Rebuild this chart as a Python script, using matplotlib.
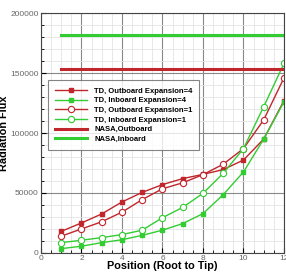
import numpy as np
import matplotlib.pyplot as plt
from matplotlib.ticker import MultipleLocator

plt.rcParams["font.family"] = ["Liberation Sans", "DejaVu Sans"]

# Radiation flux along the blade, root (1) to tip (12)
pos = np.arange(1, 13)
td_out_4 = [18000, 25000, 32500, 42500, 50500, 57000, 62000, 65500, 69500, 77500, 95000, 127000]
td_in_4 = [3600, 5600, 8600, 11000, 14700, 19000, 24500, 32800, 48600, 67500, 95000, 126000]
td_out_1 = [14000, 20000, 26000, 34000, 44500, 53500, 58500, 65300, 74000, 87000, 111000, 146000]
td_in_1 = [8600, 10600, 12800, 15300, 19000, 29400, 38000, 49700, 66400, 87000, 122000, 158000]
nasa_out = 153000
nasa_in = 182000

red = "#c0262c"
green = "#33cc33"

fig = plt.figure(figsize=(2.86, 2.72), dpi=100)
ax = fig.add_axes([0.143, 0.070, 0.85, 0.882])

ax.plot(pos, td_out_4, color=red, lw=1, marker="s", ms=3, label="TD, Outboard Expansion=4")
ax.plot(pos, td_in_4, color=green, lw=1, marker="s", ms=3, label="TD, Inboard Expansion=4")
ax.plot(pos, td_out_1, color=red, lw=1, marker="o", ms=4.5, mfc="white", mew=0.8, label="TD, Outboard Expansion=1")
ax.plot(pos, td_in_1, color=green, lw=1, marker="o", ms=4.5, mfc="white", mew=0.8, label="TD, Inboard Expansion=1")
ax.plot([pos[0], pos[-1]], [nasa_out, nasa_out], color=red, lw=2.2, label="NASA,Outboard")
ax.plot([pos[0], pos[-1]], [nasa_in, nasa_in], color=green, lw=2.2, label="NASA,Inboard")

ax.set_xlim(0, 12)
ax.set_ylim(0, 200000)
ax.xaxis.set_major_locator(MultipleLocator(2))
ax.xaxis.set_minor_locator(MultipleLocator(0.5))
ax.yaxis.set_major_locator(MultipleLocator(50000))
ax.yaxis.set_minor_locator(MultipleLocator(10000))
ax.grid(which="major", color="#888888", lw=0.8)
ax.grid(which="minor", color="#e4e4e4", lw=0.6)
ax.set_axisbelow(True)
ax.tick_params(which="both", direction="in", labelsize=6, labelcolor="#666666", pad=1.5)
for s in ax.spines.values():
    s.set_color("#444444")

ax.set_xlabel("Position (Root to Tip)", fontsize=7.8, fontweight="bold", labelpad=-1)
ax.set_ylabel("Radiation Flux", fontsize=7.8, fontweight="bold", labelpad=1)

leg = ax.legend(loc="upper left", bbox_to_anchor=(0.012, 0.735),
                prop={"weight": "bold", "size": 5.5}, frameon=True, fancybox=False,
                edgecolor="#666666", handlelength=4.2, borderpad=0.9, labelspacing=0.3,
                handletextpad=1.0)
leg.get_frame().set_linewidth(0.8)

plt.savefig("out.png")
